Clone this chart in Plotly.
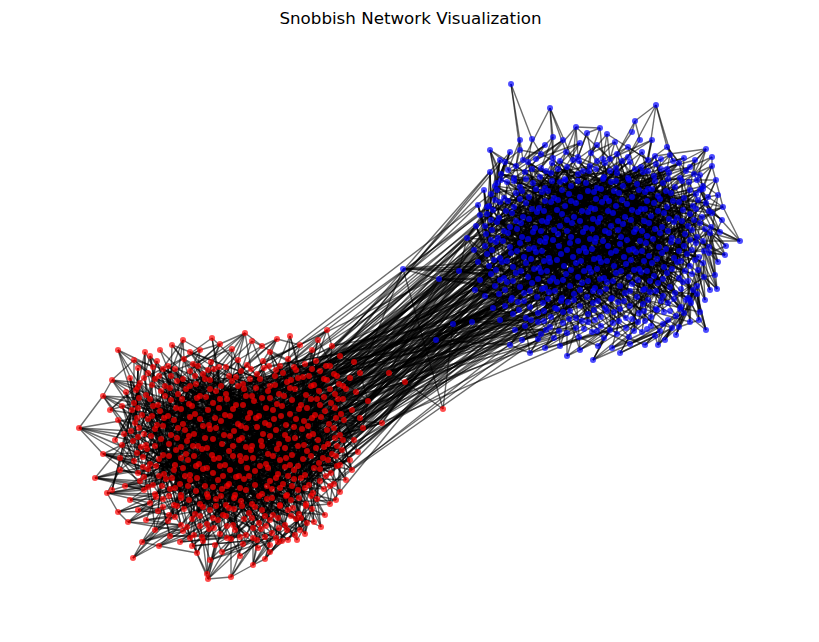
import plotly.graph_objects as go

# node layout positions (x, y pairs, flattened); y grows downward
red_rim_xy = [
    118, 350, 134, 360, 150, 356, 183, 340, 200, 350, 220, 344, 245, 333, 262, 346, 277, 339, 300, 345,
    327, 330, 332, 346, 340, 356, 354, 362, 360, 373, 389, 373, 405, 382, 368, 401, 382, 423, 363, 428,
    352, 470, 330, 504, 321, 527, 305, 534, 297, 540, 278, 542, 265, 559, 253, 565, 231, 577, 208, 579,
    207, 574, 197, 553, 159, 546, 142, 542, 133, 558, 128, 522, 118, 512, 107, 493, 95, 478, 103, 454,
    79, 428, 103, 396, 112, 380, 122, 445, 120, 470, 443, 409,
]
red_core_xy = [
    157, 361, 168, 366, 184, 359, 193, 364, 211, 362, 219, 367, 238, 360, 247, 365, 263, 361, 280, 366, 288, 359, 305, 364, 316, 361, 326, 366,
    148, 373, 163, 369, 171, 376, 190, 371, 203, 374, 214, 369, 229, 376, 241, 371, 257, 374, 264, 368, 283, 373, 296, 370, 309, 376, 320, 371, 334, 374,
    140, 383, 155, 379, 165, 386, 177, 381, 196, 384, 205, 379, 221, 386, 232, 381, 243, 384, 260, 379, 270, 386, 287, 382, 298, 378, 314, 385, 327, 380, 339, 384,
    136, 390, 146, 395, 161, 391, 178, 394, 186, 389, 200, 396, 216, 391, 226, 394, 244, 389, 252, 396, 268, 391, 279, 394, 295, 389, 306, 395, 319, 391, 335, 394, 346, 389,
    134, 403, 150, 399, 158, 405, 171, 400, 189, 404, 197, 398, 213, 403, 227, 399, 236, 405, 254, 401, 262, 398, 277, 404, 292, 400, 301, 405, 317, 399, 331, 403, 343, 399,
    132, 410, 142, 415, 160, 411, 168, 416, 181, 409, 195, 414, 208, 410, 225, 415, 233, 409, 250, 413, 259, 416, 273, 410, 290, 414, 299, 409, 315, 415, 325, 411, 341, 414,
    135, 423, 148, 419, 157, 425, 174, 420, 183, 424, 200, 419, 209, 425, 221, 421, 238, 424, 248, 418, 265, 423, 274, 419, 286, 425, 304, 421, 312, 418, 329, 424, 344, 420,
    131, 431, 144, 434, 155, 429, 171, 435, 185, 430, 194, 434, 210, 429, 224, 435, 234, 431, 246, 428, 263, 434, 276, 430, 285, 435, 302, 429, 313, 434, 327, 430, 340, 435,
    133, 441, 146, 445, 161, 439, 169, 444, 187, 441, 198, 446, 213, 439, 222, 444, 239, 440, 252, 446, 261, 441, 279, 444, 288, 439, 304, 445, 318, 440, 328, 444, 343, 440,
    137, 453, 147, 449, 163, 455, 176, 450, 186, 454, 202, 449, 212, 455, 229, 451, 240, 456, 251, 450, 268, 454, 277, 449, 292, 455, 307, 451, 316, 448, 332, 454, 342, 450,
    134, 461, 150, 464, 159, 459, 175, 465, 188, 460, 199, 464, 214, 459, 225, 465, 241, 461, 253, 458, 266, 464, 280, 460, 290, 465, 303, 459, 319, 463, 328, 460, 340, 465,
    138, 473, 148, 469, 164, 474, 174, 470, 190, 475, 203, 469, 213, 473, 230, 470, 239, 476, 255, 471, 268, 468, 278, 474, 294, 470, 305, 475, 320, 469, 331, 473,
    140, 481, 153, 485, 166, 479, 180, 484, 190, 480, 205, 486, 218, 480, 229, 484, 244, 479, 255, 485, 270, 481, 283, 484, 294, 479, 309, 485, 320, 481, 334, 484,
    144, 490, 155, 494, 170, 489, 181, 495, 196, 491, 207, 494, 222, 489, 235, 495, 246, 490, 262, 494, 272, 489, 287, 495, 298, 490, 313, 493, 324, 489,
    150, 503, 163, 499, 174, 505, 189, 500, 200, 504, 216, 499, 226, 505, 241, 501, 252, 504, 267, 499, 280, 505, 291, 500, 306, 504, 317, 499,
    158, 511, 169, 515, 184, 509, 195, 514, 210, 510, 223, 515, 234, 509, 249, 513, 262, 510, 273, 515, 288, 510, 299, 514, 312, 509,
    168, 521, 181, 525, 192, 519, 207, 524, 218, 520, 233, 525, 244, 519, 259, 523, 270, 520, 285, 525, 296, 519, 307, 523,
    183, 531, 194, 535, 209, 529, 220, 534, 235, 530, 246, 535, 261, 529, 272, 533, 287, 530, 295, 535,
    203, 541, 215, 545, 231, 539, 243, 544, 257, 540, 270, 545, 282, 541,
]
red_fill_xy = [
    153, 367, 175, 369, 198, 366, 208, 370, 226, 367, 251, 369, 269, 366, 276, 370, 294, 367, 312, 369, 330, 366,
    144, 378, 159, 376, 183, 379, 195, 376, 210, 380, 236, 377, 250, 379, 275, 376, 291, 380, 303, 377, 324, 379, 337, 376,
    138, 387, 152, 385, 170, 388, 190, 386, 210, 389, 238, 386, 256, 388, 275, 385, 290, 388, 311, 386, 330, 389, 343, 386,
    139, 398, 165, 396, 182, 399, 206, 397, 220, 399, 246, 396, 270, 398, 284, 396, 311, 399, 324, 397, 338, 399,
    138, 408, 153, 406, 176, 408, 192, 406, 219, 408, 243, 405, 266, 408, 282, 406, 307, 408, 320, 405, 335, 408,
    137, 418, 152, 416, 164, 418, 190, 417, 215, 418, 230, 416, 256, 418, 281, 416, 296, 419, 321, 417, 336, 418,
    139, 428, 163, 426, 178, 428, 203, 426, 216, 428, 241, 426, 257, 427, 269, 425, 294, 427, 308, 426, 334, 428,
    138, 437, 151, 436, 177, 438, 189, 436, 205, 438, 230, 436, 242, 438, 270, 436, 295, 438, 309, 436, 335, 438,
    141, 447, 155, 446, 181, 447, 193, 446, 207, 448, 233, 446, 246, 447, 262, 446, 285, 448, 298, 446, 324, 447, 337, 446,
    143, 457, 169, 456, 181, 458, 194, 456, 219, 458, 233, 456, 246, 458, 273, 456, 286, 458, 311, 456, 323, 458, 336, 456,
    143, 467, 156, 466, 183, 468, 196, 466, 207, 468, 220, 466, 247, 468, 260, 466, 285, 467, 298, 466, 314, 468, 337, 466,
    144, 477, 159, 476, 172, 478, 185, 476, 197, 478, 223, 476, 236, 477, 249, 476, 276, 478, 288, 476, 301, 478, 326, 476,
    148, 487, 162, 486, 175, 488, 188, 486, 213, 487, 227, 486, 240, 488, 267, 486, 280, 488, 292, 486, 305, 488, 330, 486,
    156, 497, 169, 496, 181, 498, 208, 497, 221, 496, 234, 498, 259, 496, 272, 498, 286, 496, 299, 498, 311, 496,
    163, 507, 177, 506, 203, 507, 216, 506, 229, 508, 242, 506, 255, 507, 280, 506, 293, 508, 306, 506,
    175, 517, 200, 516, 213, 518, 226, 516, 252, 518, 265, 516, 278, 518, 291, 516, 301, 518,
    187, 527, 200, 526, 214, 528, 227, 526, 253, 528, 266, 526, 279, 528,
    190, 538, 202, 537, 227, 538, 240, 537, 253, 538, 265, 537, 276, 538,
]
red_fringe_xy = [
    160, 350, 172, 345, 190, 352, 212, 338, 232, 349, 252, 341, 270, 352, 290, 336, 312, 350, 318, 340,
    350, 378, 356, 392, 352, 410, 360, 418, 354, 440, 358, 452, 350, 460, 346, 480, 340, 492, 336, 500,
    325, 515, 314, 522, 300, 530, 288, 540, 270, 552, 258, 548, 240, 556, 222, 552, 210, 560, 192, 546, 180, 542, 170, 536,
    155, 530, 146, 520, 138, 510, 130, 500, 125, 486, 120, 458, 124, 434, 118, 420, 122, 406, 126, 392, 130, 378, 138, 368,
    115, 440, 112, 490, 110, 410, 145, 352,
]

blue_rim_xy = [
    511, 84, 550, 108, 656, 105, 635, 121, 632, 132, 576, 127, 587, 133, 607, 134, 553, 137, 532, 139,
    706, 149, 712, 157, 712, 166, 667, 147, 505, 162, 497, 183, 487, 207, 723, 207, 740, 241, 725, 255,
    717, 289, 706, 330, 699, 320, 679, 327, 658, 345, 620, 353, 593, 360, 567, 356, 530, 353, 538, 339,
    453, 324, 436, 340, 403, 269, 439, 279, 467, 238, 459, 271, 472, 322, 490, 150, 700, 190, 690, 300,
    510, 345, 475, 290, 480, 215, 640, 140, 600, 128, 520, 150,
]
blue_core_xy = [
    541, 154, 553, 158, 566, 152, 578, 157, 591, 153, 603, 159, 617, 154, 628, 157, 642, 152, 655, 156,
    516, 166, 528, 162, 541, 168, 552, 163, 567, 167, 579, 161, 590, 166, 605, 163, 616, 168, 630, 162, 641, 167, 656, 164, 667, 169, 679, 163, 690, 167,
    501, 174, 514, 178, 525, 172, 540, 177, 551, 173, 565, 179, 578, 174, 589, 171, 604, 177, 617, 173, 628, 178, 643, 172, 654, 176, 669, 173, 680, 178, 694, 174,
    495, 186, 507, 182, 520, 187, 533, 183, 545, 188, 560, 182, 571, 186, 586, 183, 597, 188, 611, 182, 623, 186, 637, 184, 648, 189, 663, 183, 675, 187, 689, 182, 703, 186,
    491, 194, 504, 198, 516, 193, 529, 197, 542, 192, 554, 198, 569, 194, 580, 197, 594, 192, 606, 198, 619, 193, 632, 197, 645, 192, 658, 196, 671, 193, 684, 198, 696, 194, 708, 197,
    489, 206, 500, 202, 514, 207, 526, 203, 539, 208, 551, 202, 565, 206, 576, 203, 591, 208, 602, 202, 616, 206, 627, 204, 641, 209, 654, 203, 667, 207, 679, 202, 693, 206, 706, 203,
    487, 214, 499, 218, 512, 213, 523, 217, 537, 212, 549, 218, 562, 214, 574, 217, 588, 212, 600, 218, 613, 213, 625, 217, 638, 212, 651, 216, 664, 213, 677, 218, 690, 214, 702, 217, 712, 213,
    485, 226, 497, 222, 510, 227, 521, 223, 535, 228, 547, 222, 560, 226, 572, 223, 586, 228, 598, 222, 611, 226, 623, 224, 636, 229, 649, 223, 662, 227, 674, 222, 688, 226, 700, 223, 711, 227,
    486, 234, 498, 238, 508, 233, 522, 237, 533, 232, 546, 238, 558, 234, 571, 237, 583, 232, 596, 238, 609, 233, 621, 237, 634, 232, 647, 236, 660, 233, 672, 238, 685, 234, 697, 237, 710, 233,
    485, 246, 496, 242, 510, 247, 520, 243, 534, 248, 545, 242, 559, 246, 570, 243, 584, 248, 595, 242, 608, 246, 620, 244, 633, 249, 646, 243, 659, 247, 671, 242, 684, 246, 696, 243, 709, 247,
    487, 254, 500, 258, 511, 253, 524, 257, 536, 252, 549, 258, 561, 254, 573, 257, 586, 252, 599, 258, 611, 253, 624, 257, 636, 252, 649, 256, 662, 253, 674, 258, 687, 254, 699, 257, 709, 253,
    489, 266, 502, 262, 513, 267, 526, 263, 539, 268, 550, 262, 564, 266, 576, 263, 589, 268, 601, 262, 614, 266, 626, 264, 639, 269, 652, 263, 664, 267, 677, 262, 690, 266, 703, 263,
    491, 274, 504, 278, 516, 273, 528, 277, 541, 272, 553, 278, 566, 274, 578, 277, 591, 272, 604, 278, 616, 273, 629, 277, 641, 272, 654, 276, 667, 273, 679, 278, 692, 274, 704, 277,
    495, 286, 507, 282, 520, 287, 532, 283, 545, 288, 557, 282, 570, 286, 582, 283, 595, 288, 607, 282, 620, 286, 632, 284, 645, 289, 658, 283, 670, 287, 683, 282, 697, 286,
    499, 294, 512, 298, 524, 293, 537, 297, 549, 292, 562, 298, 574, 294, 587, 297, 600, 292, 612, 298, 625, 293, 637, 297, 650, 292, 663, 296, 675, 293, 688, 298, 697, 294,
    505, 306, 518, 302, 530, 307, 543, 303, 555, 308, 568, 302, 580, 306, 593, 303, 605, 308, 618, 302, 630, 306, 643, 304, 656, 309, 668, 303, 681, 307, 691, 303,
    513, 314, 526, 318, 538, 313, 551, 317, 563, 312, 576, 318, 588, 314, 601, 317, 614, 312, 626, 318, 639, 313, 651, 317, 664, 312, 676, 316, 684, 313,
    525, 326, 538, 322, 550, 327, 563, 323, 576, 328, 588, 322, 601, 326, 613, 323, 626, 328, 638, 322, 651, 326, 663, 324, 672, 328,
    541, 334, 554, 338, 567, 333, 579, 337, 592, 332, 604, 338, 617, 334, 629, 337, 642, 332, 655, 336,
]
blue_fill_xy = [
    523, 160, 536, 159, 560, 161, 573, 160, 597, 161, 610, 159, 622, 161, 648, 160, 661, 159, 673, 161,
    508, 170, 532, 169, 546, 171, 558, 169, 583, 171, 596, 169, 610, 171, 635, 169, 648, 171, 661, 169, 686, 171,
    501, 180, 514, 181, 526, 179, 552, 181, 565, 180, 578, 181, 603, 179, 616, 181, 629, 180, 655, 181, 668, 179, 682, 181, 697, 180,
    497, 190, 522, 191, 536, 189, 548, 191, 562, 190, 588, 191, 601, 189, 614, 191, 639, 190, 652, 189, 666, 191, 690, 190, 703, 189,
    495, 200, 508, 201, 520, 199, 545, 201, 558, 200, 571, 201, 596, 199, 609, 201, 622, 200, 647, 201, 660, 199, 673, 201, 698, 200,
    493, 210, 506, 211, 532, 209, 544, 211, 557, 210, 582, 211, 595, 209, 608, 211, 632, 210, 645, 209, 658, 211, 683, 210, 696, 209, 709, 211,
    491, 220, 516, 221, 529, 219, 542, 221, 567, 220, 580, 221, 593, 219, 618, 221, 631, 220, 644, 221, 669, 219, 682, 221, 694, 220,
    492, 230, 504, 231, 517, 229, 541, 231, 554, 230, 567, 231, 592, 229, 605, 231, 618, 230, 642, 231, 655, 229, 668, 231, 692, 230, 705, 229,
    491, 240, 503, 241, 528, 239, 540, 241, 553, 240, 578, 241, 590, 239, 603, 241, 627, 240, 640, 241, 653, 239, 678, 241, 690, 240, 703, 241,
    492, 250, 517, 251, 529, 249, 542, 251, 567, 250, 579, 251, 592, 249, 616, 251, 629, 250, 642, 251, 666, 249, 679, 251, 692, 250, 704, 251,
    494, 260, 507, 261, 531, 259, 544, 261, 557, 260, 581, 261, 594, 259, 607, 261, 631, 260, 644, 261, 657, 259, 681, 261, 695, 260,
    496, 270, 521, 271, 534, 269, 547, 271, 571, 270, 584, 271, 597, 269, 621, 271, 634, 270, 647, 271, 672, 269, 685, 271, 698, 270,
    500, 280, 513, 281, 538, 279, 550, 281, 563, 280, 588, 281, 600, 279, 613, 281, 638, 280, 650, 281, 663, 279, 688, 281,
    505, 290, 530, 291, 542, 289, 555, 291, 580, 290, 593, 291, 606, 289, 630, 291, 643, 290, 656, 291, 681, 289, 693, 290,
    511, 300, 524, 301, 548, 299, 561, 301, 574, 300, 598, 301, 611, 299, 624, 301, 648, 300, 661, 301, 674, 299, 686, 300,
    519, 310, 544, 311, 557, 309, 570, 311, 594, 310, 607, 311, 620, 309, 644, 311, 657, 310, 670, 311, 680, 309,
    531, 320, 544, 321, 569, 319, 582, 321, 595, 320, 619, 321, 632, 319, 645, 321, 668, 320,
    546, 330, 559, 331, 584, 329, 597, 331, 610, 330, 634, 331, 647, 329, 660, 331,
]
blue_fringe_xy = [
    520, 140, 545, 145, 563, 140, 580, 143, 597, 145, 615, 142, 628, 147, 652, 140, 670, 155, 684, 158, 695, 160,
    700, 175, 716, 180, 718, 195, 722, 220, 720, 232, 726, 246, 718, 262, 715, 275, 710, 290, 705, 300, 700, 312,
    690, 322, 676, 335, 665, 340, 645, 345, 630, 344, 612, 348, 598, 346, 580, 350, 560, 346, 545, 348, 522, 340, 515, 330,
    500, 320, 493, 308, 485, 296, 480, 280, 478, 262, 474, 250, 476, 226, 478, 205, 484, 190, 490, 172, 500, 160, 510, 152,
]

# edges written as walks: consecutive node indices are linked
red_rim_walks = [
    [92, 0, 60, 1, 61, 2, 76, 3, 48, 4, 63, 5, 50, 6, 52, 7, 67, 8, 54, 9, 56, 10, 58, 11, 72, 12, 74, 13, 89,
     14, 107, 15, 124, 16, 141, 17, 158, 18, 175, 19, 192, 20, 209],
    [0, 108, 1, 94, 2, 110, 3, 78, 5, 96, 6, 81, 8, 100, 10, 86, 12, 104, 13, 122, 14, 139, 17, 156, 19, 190,
     20, 224, 21, 287, 22, 300, 23, 312, 24, 322, 25, 329, 26, 328, 27, 327, 28, 325, 29, 324, 30, 323, 31, 314,
     32, 313, 33, 301, 34, 302, 35, 288, 36, 274, 37, 259, 38, 243, 39, 210, 40, 176, 41, 125, 42, 91, 0],
    [21, 256, 22, 298, 23, 311, 24, 297, 25, 321, 26, 320, 27, 319, 28, 318, 29, 316, 30, 315, 31, 305, 32, 302,
     33, 289, 34, 313, 35, 275, 36, 260, 37, 244, 38, 228, 39, 193, 40, 159, 41, 108, 42, 75, 43, 176, 44, 227],
    [40, 41, 42, 1], [40, 39, 43, 38, 44, 37, 36, 35], [34, 33, 32, 31, 30, 29, 28, 27, 26, 25],
    [3, 4, 5, 6, 7, 8, 9, 10, 11], [43, 194, 44, 245, 39, 211], [15, 16, 45], [18, 19, 17, 14, 13, 12],
    [0, 330, 2, 341, 4, 332, 6, 335, 9, 338, 11, 340, 13, 352, 17, 375, 19, 397, 20, 443, 21, 500, 23, 509,
     25, 516, 27, 521, 29, 517, 31, 510, 33, 491, 35, 480, 37, 468, 38, 444, 39, 432, 43, 409, 40, 387, 41, 365, 42, 353],
    [524, 62, 525, 150, 526, 81, 527, 200, 528, 67, 529, 240, 530, 86, 531, 190, 532, 72, 533, 165, 534, 124, 535, 230,
     536, 141, 537, 175, 538, 158, 539, 260, 540, 209, 541, 120, 542, 226, 543, 280, 544, 256, 545, 170, 546, 300, 547,
     215, 548, 312, 549, 250, 550, 320, 551, 196, 552, 327, 553, 237, 554, 318, 555, 160, 556, 302, 557, 270, 558, 289,
     559, 205, 560, 259, 561, 140, 562, 227, 563, 183, 564, 176, 565, 246, 566, 142, 567, 210, 568, 125, 569, 188, 570,
     108, 571, 92],
    [524, 380, 525, 360, 526, 395, 527, 342, 528, 410, 529, 351, 530, 430, 531, 337, 532, 452, 533, 364, 534, 386, 535,
     420, 536, 397, 537, 443, 538, 408, 539, 455, 540, 466, 541, 430, 542, 479, 543, 462, 544, 490, 545, 470, 546, 500,
     547, 485, 548, 509, 549, 494, 550, 516, 551, 505, 552, 523, 553, 512, 554, 520, 555, 491, 556, 501, 557, 480, 558,
     482, 559, 468, 560, 456, 561, 444, 562, 432, 563, 420, 564, 409, 565, 398, 566, 387, 567, 376, 568, 365, 569, 353,
     570, 341, 571, 330],
]
red_core_walks = [
    [46, 210, 88, 301, 133, 72, 259, 180, 317, 95, 226, 150, 62, 288, 171, 119, 243, 57, 196, 322, 104, 165, 276, 83,
     238, 141, 49, 203, 312, 127, 67, 254, 189, 110, 297, 158, 78, 231, 305, 144, 52, 218, 173, 99, 268, 325, 135, 61,
     248, 186, 113, 290, 152, 70, 235, 309, 128, 84, 261, 199, 117, 281, 55, 214, 168, 93, 246, 319, 139, 75, 227, 183,
     101, 294, 160, 66, 251, 207, 122, 279, 48, 192, 315, 146, 87, 240, 175, 106, 300, 131, 59, 222, 164, 91, 266, 328,
     148, 73, 256, 195],
    [120, 283, 64, 177, 244, 97, 310, 155, 51, 233, 188, 108, 271, 137, 80, 219, 303, 162, 69, 250, 126, 46, 197, 285,
     114, 229, 170, 86, 262, 323, 143, 58, 212, 179, 102, 292, 156, 76, 237, 316, 130, 63, 253, 201, 116, 278, 50, 185,
     306, 149, 94, 242, 167, 111, 298, 134, 71, 225, 313, 153, 82, 267, 191, 123, 287, 56, 206, 172, 98, 258, 321, 142,
     65, 232, 181, 107, 295, 159, 79, 247, 209, 125, 274, 53, 190, 311, 138, 89, 236, 166, 100, 289, 132, 68, 220, 307,
     151, 85, 263, 198],
    [115, 273, 60, 178, 241, 96, 326, 157, 47, 230, 187, 109, 282, 145, 77, 216, 304, 161, 74, 249, 121, 54, 200, 286,
     118, 228, 169, 90, 264, 318, 140, 57, 211, 176, 103, 296, 154, 81, 239, 314, 129, 62, 255, 204, 112, 280, 49, 184,
     308, 147, 92, 245, 163, 105, 299, 136, 72, 223, 320, 150, 88, 265, 193, 124, 291, 55, 208, 174, 95, 257, 324, 139,
     67, 234, 182, 110, 293, 158, 78, 252, 205, 127, 277, 52, 194, 312, 133, 83, 238, 171, 99, 284, 129, 61, 217, 302,
     144, 86, 260, 202],
    [140, 66, 190, 270, 105, 318, 176, 58, 243, 127, 209, 81, 295, 160, 113, 232, 71, 285, 149, 203, 94, 262, 329, 118,
     179, 48, 224, 306, 137, 87, 250, 165, 100, 275, 213, 63, 187, 300, 126, 76, 239, 154, 97, 281, 195, 50, 229, 315,
     143, 70, 256, 173, 109, 290, 221, 59, 185, 309, 132, 91, 247, 168, 103, 272, 211, 65, 199, 322, 146, 79, 235, 157,
     111, 288, 226, 54, 180, 303, 135, 84, 259, 170, 96, 279, 215, 61, 192, 317, 141, 74, 244, 163, 107, 297, 220, 47,
     186, 310, 130, 89],
    [151, 68, 206, 276, 114, 327, 167, 56, 237, 128, 217, 92, 293, 159, 119, 254, 73, 287, 145, 200, 85, 269, 323, 122,
     182, 51, 231, 301, 138, 80, 245, 175, 104, 278, 208, 64, 189, 308, 123, 90, 251, 161, 116, 283, 196, 53, 225, 319,
     148, 69, 261, 172, 98, 292, 216, 60, 183, 305, 136, 78, 242, 156, 108, 271, 219, 67, 201, 313, 152, 82, 233, 164,
     112, 286, 227, 57, 178, 298, 134, 93, 266, 169, 101, 280, 212, 62, 193, 311, 142, 75, 248, 155, 106, 289, 222, 49,
     188, 314, 131, 87],
    [330, 410, 95, 455, 201, 367, 512, 146, 388, 270, 441, 61, 479, 333, 228, 402, 520, 180, 349, 463, 115, 425, 298,
     372, 497, 83, 340, 438, 255, 391, 506, 162, 356, 470, 213, 417, 131, 485, 345, 239, 398, 515, 72, 362, 449, 190,
     428, 307, 380, 493, 104, 337, 459, 266, 412, 518, 154, 370, 476, 221, 395, 89, 447, 352, 283, 420, 501, 126, 384,
     466, 197, 343, 432, 58, 490, 375, 246, 408, 523, 171, 359, 453, 117, 436, 316, 386, 509, 78, 348, 474, 233, 414,
     137, 482, 366, 259, 400, 496, 185, 331, 461],
    [335, 444, 67, 378, 488, 208, 423, 143, 358, 471, 291, 405, 513, 99, 369, 450, 226, 393, 121, 481, 341, 262, 431,
     507, 167, 354, 465, 84, 416, 302, 377, 499, 204, 346, 457, 128, 389, 517, 244, 406, 74, 364, 478, 187, 426, 311,
     351, 492, 106, 434, 272, 382, 503, 158, 339, 468, 218, 399, 91, 446, 360, 249, 419, 510, 140, 373, 486, 195, 338,
     458, 113, 411, 287, 396, 521, 176, 353, 473, 62, 429, 236, 385, 494, 150, 342, 462, 211, 403, 98, 452, 365, 276,
     421, 504, 135, 376, 483, 182, 334, 440, 52, 415, 320, 387, 519, 165, 361, 467, 230, 409, 110, 489, 350, 257, 433,
     500, 86, 371, 456, 199, 397, 124, 480, 344, 268, 424, 511],
    [47, 380, 129, 455, 212, 342, 96, 501, 263, 418, 58, 470, 181, 395, 305, 361, 143, 489, 227, 436, 75, 517, 198, 374,
     285, 447, 109, 409, 250, 332, 162, 482, 93, 425, 316, 368, 137, 503, 219, 441, 64, 390, 273, 459, 152, 347, 101,
     514, 241, 402, 179, 476, 83, 433, 297, 355, 126, 494, 206, 413, 69, 451, 261, 384, 145, 508, 233, 338, 112, 469,
     292, 427, 55, 399, 187, 486, 248, 363, 118, 442, 309, 378, 157, 498, 214, 416, 78, 462, 279, 345, 134, 522, 193,
     404, 252, 474, 100, 357, 321, 439],
]

blue_rim_walks = [
    [45, 0, 9, 46, 45, 56, 14, 71, 37, 56],
    [1, 8, 47, 1, 48, 5, 49, 6, 50, 7, 51, 44, 50],
    [2, 3, 4, 52, 3, 43, 53, 2, 13, 55, 10, 70, 11, 86, 12, 103, 38, 121, 17, 139, 18, 196, 19, 234, 20, 270, 39, 304,
     21, 320, 22, 287, 23, 335, 24, 348, 25, 356, 26, 354, 27, 351, 28, 349, 29, 322, 40, 336, 36, 321, 31, 305, 30,
     289, 41, 271, 33, 254, 35, 235, 32, 253, 34, 178, 42, 140, 16, 104, 15, 87, 14],
    [9, 57, 8, 58, 5, 44, 6, 49], [13, 69, 10, 86], [11, 12, 17, 18], [17, 158, 38, 139, 19, 215],
    [18, 177, 20, 252, 39, 287], [21, 304, 22, 23, 24, 358, 25, 345, 26, 343, 27, 340, 28, 336, 29],
    [30, 36, 31, 40, 28], [32, 33, 35, 34, 16, 42, 15, 37, 14, 45], [35, 253, 41, 288, 36, 305], [16, 122, 15, 71, 14, 56],
    [0, 359, 1, 362, 5, 364, 7, 366, 2, 368, 13, 379, 10, 392, 12, 405, 38, 432, 17, 445, 18, 473, 19, 487, 20, 513,
     39, 537, 21, 560, 23, 569, 24, 577, 26, 574, 28, 570, 40, 561, 36, 550, 30, 538, 41, 526, 33, 514, 35, 501, 32,
     488, 34, 460, 42, 433, 16, 419, 15, 393, 37, 380, 14, 369],
    [578, 56, 579, 160, 580, 72, 581, 200, 582, 50, 583, 230, 584, 76, 585, 180, 586, 68, 587, 250, 588, 86, 589, 139,
     590, 121, 591, 215, 592, 158, 593, 177, 594, 234, 595, 196, 596, 270, 597, 252, 598, 287, 599, 235, 600, 320, 601,
     304, 602, 348, 603, 290, 604, 335, 605, 270, 606, 352, 607, 300, 608, 345, 609, 260, 610, 340, 611, 240, 612, 321,
     613, 288, 614, 305, 615, 253, 616, 271, 617, 216, 618, 235, 619, 178, 620, 140, 621, 104, 622, 87, 623, 71],
    [578, 369, 579, 380, 580, 360, 581, 395, 582, 364, 583, 410, 584, 366, 585, 401, 586, 368, 587, 420, 588, 379, 589,
     405, 590, 392, 591, 432, 592, 418, 593, 445, 594, 459, 595, 473, 596, 487, 597, 500, 598, 513, 599, 525, 600, 549,
     601, 537, 602, 560, 603, 569, 604, 577, 605, 566, 606, 574, 607, 563, 608, 571, 609, 555, 610, 570, 611, 551, 612,
     561, 613, 540, 614, 538, 615, 527, 616, 514, 617, 501, 618, 488, 619, 474, 620, 446, 621, 433, 622, 406, 623, 393],
]
blue_core_walks = [
    [46, 215, 93, 330, 140, 77, 270, 185, 345, 101, 234, 157, 64, 305, 178, 125, 252, 59, 201, 352, 110, 170, 288, 88,
     245, 147, 50, 210, 338, 133, 70, 262, 196, 116, 318, 164, 82, 240, 327, 150, 55, 225, 180, 104, 281, 355, 141, 66,
     257, 192, 119, 300, 160, 73, 243, 334, 131, 90, 274, 206, 122, 293, 57, 221, 175, 97, 255, 348, 145, 79, 236, 188,
     107, 310, 167, 68, 263, 213, 128, 289, 48, 198, 340, 152, 92, 248, 182, 112, 320, 137, 61, 230, 171, 95, 278, 356,
     154, 76, 266, 203],
    [126, 296, 67, 184, 253, 102, 332, 162, 53, 241, 194, 113, 283, 144, 85, 227, 315, 168, 72, 259, 130, 47, 204, 298,
     118, 237, 176, 91, 272, 350, 149, 60, 219, 186, 106, 303, 163, 80, 246, 336, 136, 65, 264, 208, 121, 290, 52, 191,
     325, 155, 99, 250, 174, 115, 312, 139, 74, 231, 344, 159, 86, 277, 199, 127, 301, 58, 212, 179, 103, 268, 353, 148,
     69, 239, 187, 111, 307, 165, 83, 256, 216, 132, 285, 56, 197, 328, 143, 94, 244, 172, 105, 299, 138, 71, 228, 322,
     158, 89, 273, 205],
    [120, 284, 62, 183, 249, 100, 357, 161, 49, 238, 193, 114, 295, 151, 81, 222, 317, 166, 78, 258, 124, 57, 207, 297,
     123, 233, 173, 94, 276, 342, 146, 59, 217, 181, 108, 309, 160, 84, 247, 333, 134, 64, 267, 211, 117, 292, 51, 189,
     323, 153, 96, 254, 169, 109, 313, 142, 75, 229, 346, 156, 87, 279, 200, 129, 302, 54, 214, 177, 98, 265, 351, 145,
     70, 242, 190, 112, 306, 164, 82, 261, 209, 133, 287, 55, 199, 326, 139, 88, 246, 178, 104, 294, 135, 63, 224, 316,
     150, 91, 271, 207],
    [147, 69, 195, 282, 110, 339, 180, 60, 252, 131, 214, 85, 308, 166, 118, 240, 74, 297, 155, 209, 98, 273, 354, 123,
     186, 50, 232, 321, 142, 90, 258, 171, 105, 286, 220, 66, 192, 311, 130, 79, 247, 159, 101, 291, 202, 53, 235, 329,
     149, 73, 266, 178, 113, 302, 226, 61, 190, 318, 138, 95, 255, 174, 107, 280, 218, 68, 205, 343, 152, 83, 243, 162,
     116, 300, 230, 57, 185, 314, 140, 87, 269, 176, 100, 289, 223, 64, 197, 337, 148, 77, 251, 167, 111, 304, 228, 48,
     193, 324, 136, 93],
    [157, 71, 211, 285, 119, 349, 172, 58, 244, 132, 224, 96, 306, 163, 125, 261, 76, 296, 150, 204, 89, 278, 341, 127,
     187, 54, 236, 310, 144, 84, 251, 181, 108, 288, 213, 67, 194, 319, 128, 94, 260, 165, 120, 293, 201, 56, 229, 331,
     154, 72, 268, 177, 102, 303, 220, 63, 188, 315, 141, 81, 248, 160, 112, 280, 225, 69, 206, 327, 158, 86, 239, 168,
     117, 299, 232, 59, 183, 309, 137, 97, 275, 173, 103, 292, 217, 65, 198, 321, 146, 78, 256, 161, 109, 301, 226, 52,
     191, 335, 134, 90],
    [359, 470, 101, 520, 215, 401, 560, 150, 430, 288, 495, 66, 541, 372, 236, 455, 575, 190, 387, 512, 122, 468, 310,
     410, 553, 88, 380, 485, 266, 437, 568, 172, 396, 530, 225, 448, 140, 506, 364, 250, 420, 571, 79, 392, 489, 200,
     459, 331, 418, 547, 111, 376, 502, 280, 444, 565, 163, 405, 526, 243, 434, 95, 499, 383, 300, 463, 556, 133, 414,
     517, 210, 367, 474, 60, 537, 426, 259, 451, 577, 185, 398, 508, 127, 480, 345, 423, 562, 83, 369, 493, 247, 441,
     147, 534, 389, 274, 466, 549, 196, 361, 477],
    [362, 491, 70, 407, 544, 220, 461, 155, 385, 514, 304, 427, 572, 106, 403, 487, 240, 452, 131, 528, 378, 270, 473,
     558, 178, 394, 510, 91, 439, 322, 416, 551, 207, 370, 482, 117, 457, 292, 400, 574, 166, 433, 523, 62, 381, 497,
     229, 446, 138, 539, 365, 256, 419, 563, 193, 390, 504, 98, 471, 335, 412, 545, 159, 374, 486, 218, 436, 76, 532,
     402, 284, 465, 570, 145, 397, 519, 233, 448, 120, 500, 377, 262, 429, 555, 182, 366, 478, 55, 443, 315, 409, 542,
     203, 388, 516, 142, 460, 296, 421, 566],
    [48, 402, 135, 490, 220, 370, 99, 541, 272, 451, 60, 505, 190, 420, 318, 384, 148, 527, 239, 464, 77, 560, 205, 398,
     296, 479, 113, 436, 263, 361, 168, 517, 95, 458, 330, 393, 141, 546, 227, 472, 66, 413, 284, 495, 158, 375, 104,
     553, 250, 430, 185, 509, 87, 466, 308, 381, 130, 532, 212, 442, 71, 488, 276, 409, 152, 566, 245, 365, 116, 501,
     301, 455, 57, 426, 195, 520, 258, 389, 123, 476, 323, 404, 162, 538, 222, 447, 81, 497, 290, 372, 139, 575, 200,
     433, 267, 512, 106, 386, 343, 461],
]

# links between the two groups (red index, blue index)
cross_red = [
    68, 85, 102, 119, 136, 153, 170, 187, 204, 221, 238, 254, 269, 72, 88, 105, 122, 139, 156, 173, 190, 207, 224, 241,
    257, 271, 74, 90, 107, 124, 141, 158, 175, 192, 209, 226, 242, 258, 273, 70, 86, 103, 120, 137, 154, 171, 188, 205,
    222, 239, 255, 270, 9, 10, 11, 12, 13, 14, 15, 16, 17, 18, 19, 20, 45, 15, 16, 45, 69, 87, 104, 121, 138, 155, 172,
    189, 206, 223, 240, 256, 272, 71, 84, 101, 118, 135, 152, 169, 186, 203, 220, 237, 253, 268, 73, 89, 106, 123, 140,
    157, 174, 191, 208, 225, 14, 12, 17, 18, 19, 21, 13, 11,
    336, 337, 338, 339, 340, 348, 349, 350, 351, 352, 360, 361, 362, 363, 364, 371, 372, 373, 374, 375, 382, 383, 384,
    385, 386, 393, 394, 395, 396, 397, 404, 405, 406, 407, 408, 415, 416, 417, 418, 419, 427, 428, 429, 430, 431, 439,
    440, 441, 442, 443, 451, 452, 453, 454, 455, 463, 464, 465, 466, 467, 475, 476, 477, 478, 479,
    99, 100, 101, 102, 133, 134, 135, 136, 167, 168, 169, 170, 201, 202, 203, 204, 234, 235, 236, 237, 266, 267, 268,
    357, 358, 359, 379, 380, 381, 402, 403, 404, 424, 425, 426, 448, 449, 450, 472, 473, 474,
    533, 534, 535, 536, 537, 538, 539, 540, 541, 542, 543,
]
cross_blue = [
    104, 122, 140, 159, 178, 197, 216, 235, 253, 271, 288, 305, 321, 106, 124, 142, 161, 180, 199, 218, 237, 255, 273,
    290, 307, 323, 108, 126, 144, 163, 182, 201, 220, 239, 257, 275, 292, 309, 325, 336, 349, 110, 128, 146, 165, 184,
    203, 222, 241, 259, 277, 294, 42, 16, 34, 35, 33, 32, 41, 36, 30, 31, 40, 29, 32, 33, 31, 30, 311, 327, 338, 351,
    105, 123, 141, 160, 179, 198, 217, 236, 254, 272, 289, 306, 322, 337, 350, 107, 125, 143, 162, 181, 200, 219, 238,
    256, 274, 291, 308, 324,
    406, 419, 433, 446, 460, 474, 488, 501, 514, 526, 538, 550, 561, 570, 407, 420, 434, 447, 461, 475, 489, 502, 515,
    527, 539, 551, 562, 571, 408, 421, 435, 448, 462, 476, 490, 503, 516, 528, 540, 552, 563, 572, 409, 422, 436, 449,
    463, 477, 491, 504, 517, 529, 541, 553, 564, 573, 410, 423, 437, 450, 464, 478, 492, 505, 518,
    146, 184, 222, 259, 294, 397, 451, 479, 506, 530, 147, 185, 223, 260, 295, 398, 452, 480, 507, 531,
    148, 186, 224, 261, 296, 399, 453, 481, 508, 532, 149, 187, 225, 262, 297, 400, 454, 482, 509, 533, 150,
    613, 614, 615, 616, 617, 618, 619, 620, 621, 622, 623,
]


def to_points(flat):
    return list(zip(flat[0::2], flat[1::2]))


def walk_edges(walks):
    return [(a, b) for w in walks for a, b in zip(w[:-1], w[1:])]


red_pos = to_points(red_rim_xy + red_core_xy + red_fill_xy + red_fringe_xy)
blue_pos = to_points(blue_rim_xy + blue_core_xy + blue_fill_xy + blue_fringe_xy)

segments = []
for pos, walks in ((red_pos, red_rim_walks + red_core_walks), (blue_pos, blue_rim_walks + blue_core_walks)):
    for a, b in walk_edges(walks):
        if a != b and a < len(pos) and b < len(pos):
            segments.append((pos[a], pos[b]))
for a, b in zip(cross_red, cross_blue):
    if a < len(red_pos) and b < len(blue_pos):
        segments.append((red_pos[a], blue_pos[b]))

fig = go.Figure()

# edges in small batches so the translucent strokes build up like separate lines
batch = 4
for i in range(0, len(segments), batch):
    xs, ys = [], []
    for (x0, y0), (x1, y1) in segments[i:i + batch]:
        xs += [x0, x1, None]
        ys += [y0, y1, None]
    fig.add_trace(go.Scatter(x=xs, y=ys, mode="lines", hoverinfo="skip",
                             line=dict(color="rgba(0,0,0,0.58)", width=1.4)))

for pos, color in ((red_pos, "rgba(255,0,0,0.7)"), (blue_pos, "rgba(0,0,255,0.7)")):
    fig.add_trace(go.Scatter(
        x=[p[0] for p in pos], y=[p[1] for p in pos], mode="markers",
        marker=dict(size=6, color=color, line=dict(width=0)),
        hoverinfo="skip",
    ))

# the page body adds an 8 px offset, so the view window is shifted by the same amount
fig.update_layout(
    width=819,
    height=642,
    margin=dict(l=0, r=0, t=0, b=0),
    paper_bgcolor="white",
    plot_bgcolor="white",
    showlegend=False,
    title=dict(text="Snobbish Network Visualization", x=402.5 / 819, xanchor="center",
               y=1 - 10 / 642, yanchor="middle",
               font=dict(family="DejaVu Sans", size=16.7, color="black")),
    xaxis=dict(range=[8, 827], visible=False),
    yaxis=dict(range=[650, 8], visible=False),
)
fig.write_html("out.html")
